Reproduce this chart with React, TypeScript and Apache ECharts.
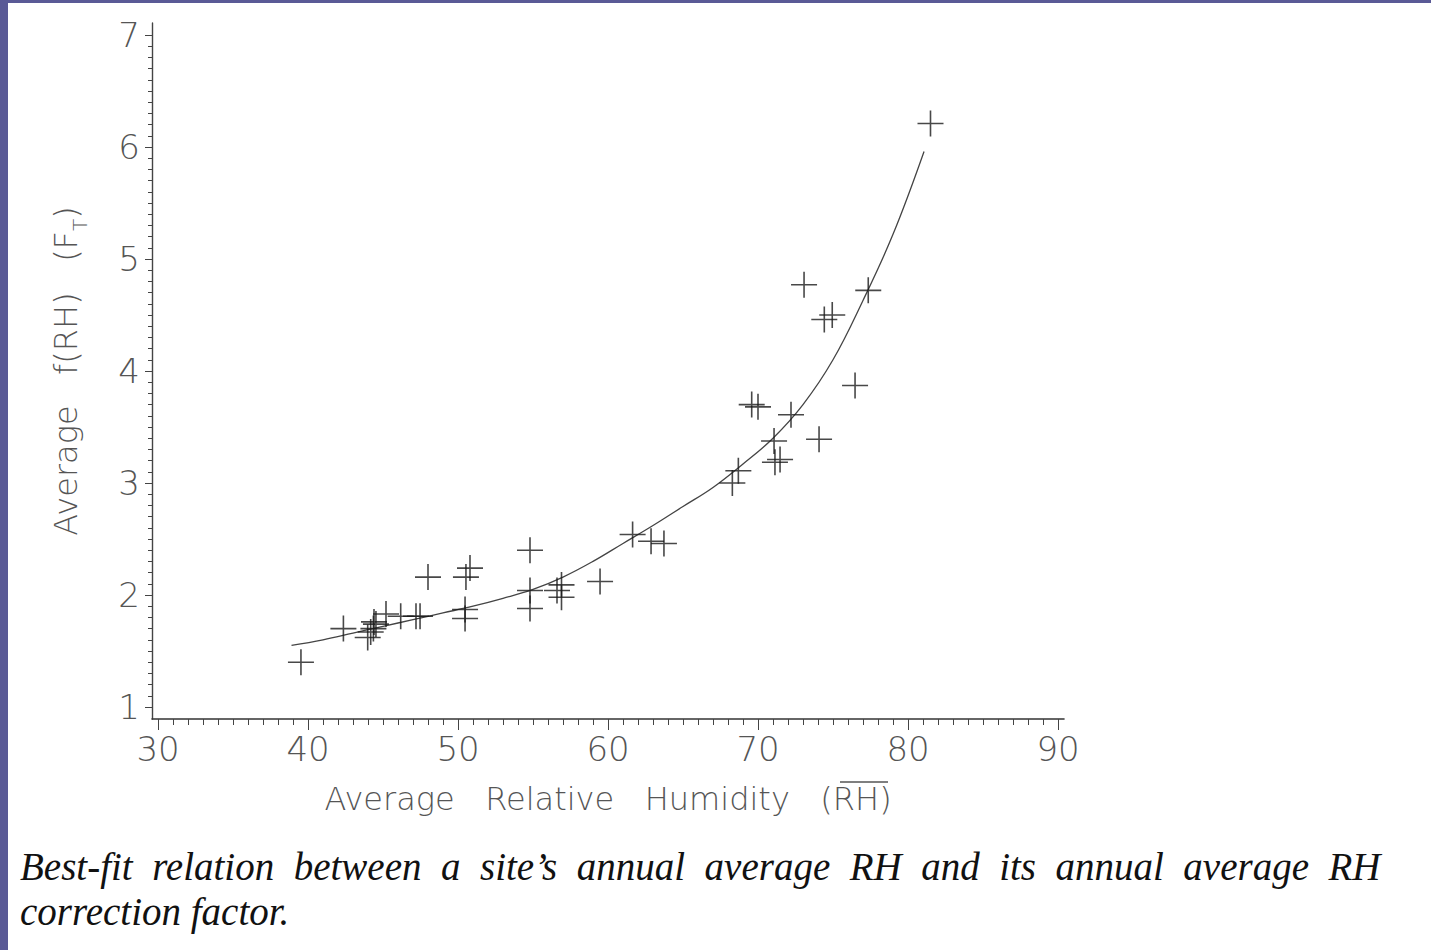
import React, { useEffect, useRef } from "react";
import * as echarts from "echarts";

// Scatter observations: annual average RH (x) and its correction factor f(RH) (y)
const rhValues = [
  39.53, 42.36, 43.98, 44.18, 44.36, 44.53, 44.4, 45.2, 46.18, 47.2, 47.47,
  48.0, 50.53, 50.8, 50.47, 50.47, 54.8, 54.8, 54.8, 56.6, 56.9, 56.9,
  59.47, 61.64, 62.87, 63.73, 68.29, 68.69, 69.58, 70.0, 71.07, 71.13,
  71.47, 72.2, 73.07, 74.07, 74.42, 74.95, 76.47, 77.35, 81.5,
];
const fValues = [
  1.4, 1.7, 1.62, 1.67, 1.7, 1.74, 1.76, 1.83, 1.81, 1.81, 1.81,
  2.16, 2.16, 2.24, 1.87, 1.79, 2.4, 2.04, 1.88, 2.04, 2.09, 1.98,
  2.12, 2.54, 2.48, 2.46, 3.0, 3.11, 3.7, 3.68, 3.375, 3.185,
  3.21, 3.61, 4.77, 3.39, 4.46, 4.5, 3.87, 4.72, 6.21,
];

// Best-fit curve, points
const curveRH = [38.9, 41, 43, 45, 47, 49, 51, 53, 55, 57, 59, 61, 63, 65, 67, 69, 71, 73, 75, 77, 79, 81.07];
const curveF = [1.55, 1.6, 1.66, 1.72, 1.78, 1.84, 1.9, 1.97, 2.05, 2.16, 2.3, 2.46, 2.62, 2.79, 2.96, 3.17, 3.4, 3.7, 4.1, 4.63, 5.22, 5.96];

const xAxisTitle = "Average\u00A0\u00A0 Relative\u00A0\u00A0 Humidity\u00A0\u00A0 (RH)";
const captionLine1 =
  "Best-fit\u00A0 relation\u00A0 between\u00A0 a\u00A0 site\u2019s\u00A0 annual\u00A0 average\u00A0 RH\u00A0 and\u00A0 its\u00A0 annual\u00A0 average\u00A0 RH";
const captionLine2 = "correction factor.";

const AXIS_FONT = '"DejaVu Sans", sans-serif';
const TEXT_GRAY = "#555";
const PLUS = "path://M12.2,0H13.8V26H12.2Z M0,12.2H26V13.8H0Z";

export default function App() {
  const ref = useRef<HTMLDivElement>(null);

  useEffect(() => {
    if (!ref.current) return;
    const chart = echarts.init(ref.current, undefined, { renderer: "svg" });
    const labelStyle = {
      fontFamily: AXIS_FONT,
      fontSize: 34,
      fontWeight: 200,
      color: TEXT_GRAY,
    };
    const option: any = {
      animation: false,
      backgroundColor: "#ffffff",
      grid: [
        { left: 152, top: 23, width: 912, height: 696, outerBoundsMode: "none" },
        { left: 158, top: 35, width: 900, height: 672, outerBoundsMode: "none" },
      ],
      xAxis: [
        {
          type: "value",
          gridIndex: 0,
          min: 29.6,
          max: 90.4,
          axisLine: { show: true, lineStyle: { color: "#333", width: 1.6 } },
          axisTick: { show: false },
          axisLabel: { show: false },
          splitLine: { show: false },
          name: xAxisTitle,
          nameLocation: "middle",
          nameGap: 64,
          nameTextStyle: { fontFamily: AXIS_FONT, fontSize: 32, fontWeight: 200, color: TEXT_GRAY },
        },
        {
          type: "value",
          gridIndex: 1,
          min: 30,
          max: 90,
          interval: 10,
          offset: 12,
          axisLine: { show: false },
          axisTick: { show: true, length: 11, lineStyle: { color: "#444", width: 1 } },
          minorTick: { show: true, splitNumber: 10, length: 6, lineStyle: { color: "#444", width: 1 } },
          axisLabel: { ...labelStyle, margin: 13 },
          splitLine: { show: false },
          minorSplitLine: { show: false },
        },
      ],
      yAxis: [
        {
          type: "value",
          gridIndex: 0,
          min: 0.8929,
          max: 7.1071,
          axisLine: { show: true, lineStyle: { color: "#444", width: 1.4 } },
          axisTick: { show: false },
          axisLabel: { show: false },
          splitLine: { show: false },
          name: "{n|Average\u00A0\u00A0 f(RH)\u00A0\u00A0 (F}{s|T}{n|)}",
          nameLocation: "middle",
          nameGap: 62,
          nameTextStyle: {
            rich: {
              n: { fontFamily: AXIS_FONT, fontSize: 32, fontWeight: 200, color: TEXT_GRAY, lineHeight: 40, verticalAlign: "top" },
              s: { fontFamily: AXIS_FONT, fontSize: 20, fontWeight: 200, color: TEXT_GRAY, lineHeight: 20, verticalAlign: "bottom" },
            },
          },
        },
        {
          type: "value",
          gridIndex: 1,
          min: 1,
          max: 7,
          interval: 1,
          offset: 6,
          axisLine: { show: false },
          axisTick: { show: true, length: 7, lineStyle: { color: "#444", width: 1 } },
          minorTick: { show: true, splitNumber: 10, length: 4, lineStyle: { color: "#444", width: 1 } },
          axisLabel: { ...labelStyle, margin: 12 },
          splitLine: { show: false },
          minorSplitLine: { show: false },
        },
      ],
      series: [
        {
          type: "line",
          xAxisIndex: 0,
          yAxisIndex: 0,
          data: curveRH.map((x, i) => [x, curveF[i]]),
          smooth: 0.4,
          showSymbol: false,
          symbol: "none",
          lineStyle: { color: "#444", width: 1.3 },
          silent: true,
          z: 2,
        },
        {
          type: "scatter",
          xAxisIndex: 0,
          yAxisIndex: 0,
          data: rhValues.map((x, i) => [x, fValues[i]]),
          symbol: PLUS,
          symbolSize: 26,
          itemStyle: { color: "#1a1a1a" },
          silent: true,
          z: 3,
        },
      ],
      graphic: [
        { type: "rect", shape: { x: 0, y: 0, width: 8, height: 950 }, style: { fill: "#5a5a96" }, silent: true },
        { type: "rect", shape: { x: 0, y: 0, width: 1431, height: 3 }, style: { fill: "#5a5a96" }, silent: true },
        { type: "line", shape: { x1: 840, y1: 782, x2: 888, y2: 782 }, style: { stroke: TEXT_GRAY, lineWidth: 1.4 }, silent: true },
        {
          type: "text",
          x: 20,
          y: 866,
          style: {
            text: captionLine1,
            font: 'italic 39px "Liberation Serif", serif',
            fill: "#111",
            verticalAlign: "middle",
          },
          silent: true,
        },
        {
          type: "text",
          x: 20,
          y: 911,
          style: {
            text: captionLine2,
            font: 'italic 39px "Liberation Serif", serif',
            fill: "#111",
            verticalAlign: "middle",
          },
          silent: true,
        },
      ],
    };
    chart.setOption(option);
    return () => chart.dispose();
  }, []);

  return (
    <div
      ref={ref}
      style={{ position: "absolute", left: 0, top: 0, width: 1431, height: 950 }}
    />
  );
}
